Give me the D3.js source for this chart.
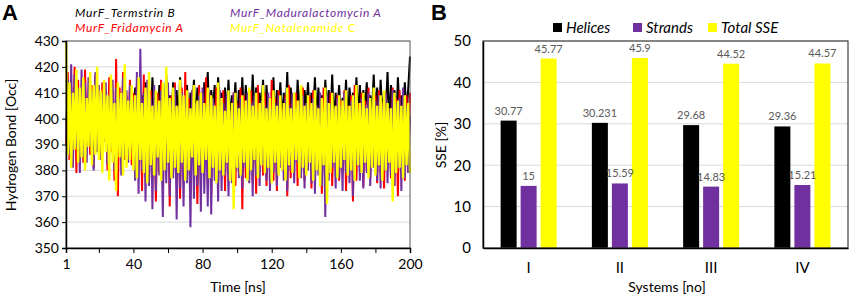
<!DOCTYPE html>
<html>
<head>
<meta charset="utf-8" />
<title>MurF hydrogen bonds and SSE</title>
<style>
  body { margin: 0; background: #fff; }
  svg { font-family: Lato, "Open Sans", sans-serif; }
</style>
</head>
<body>
<svg id="chart" width="858" height="301"></svg>
<script src="https://cdn.jsdelivr.net/npm/d3@7"></script>
<script>
// ---- panel A data (hydrogen bond occupancy, one value per ns, 1..200) ----
var seriesNames = ["MurF_Termstrin B", "MurF_Maduralactomycin A", "MurF_Fridamycin A", "MurF_Natalenamide C"];
var seriesColors = ["#000000", "#7030a0", "#ff0000", "#ffff00"];

var termstrinB = [
  398,404,396,406,401,394,405,399,403,392,404,397,406,395,402,400,405,393,404,398,
  401,396,406,399,404,394,407,401,403,397,406,395,405,400,408,396,404,402,407,398,
  412,400,415,397,409,403,414,399,411,396,416,401,408,398,413,395,410,404,417,400,
  409,396,414,402,411,397,416,399,408,401,413,395,410,403,415,398,412,400,409,397,
  414,401,418,396,411,404,413,399,416,402,410,397,412,400,415,398,409,403,414,396,
  411,400,416,397,413,402,409,399,417,401,412,396,410,404,415,398,413,400,408,402,
  416,397,411,403,414,399,410,401,418,396,412,402,409,398,415,400,413,397,411,404,
  414,399,410,402,416,398,412,401,409,396,415,403,411,400,417,397,410,402,413,399,
  408,401,415,397,412,403,410,399,416,400,413,396,411,404,414,398,409,402,417,400,
  412,397,415,401,410,403,418,399,413,400,411,396,416,402,409,398,414,401,412,424
];
var fridamycinA = [
  390,418,384,412,396,420,379,415,388,410,383,419,392,408,386,413,381,417,394,409,
  385,414,391,407,380,416,387,411,376,423,370,412,393,418,384,409,389,415,382,410,
  378,413,386,408,372,417,381,406,375,411,384,404,368,410,379,415,373,407,383,412,
  366,409,380,414,374,405,369,412,382,418,377,408,371,411,385,406,367,413,376,409,
  381,416,374,410,370,407,383,412,376,405,379,411,372,408,385,403,378,410,374,406,
  380,412,365,409,377,404,383,411,375,407,371,413,382,406,378,410,374,405,381,415,
  376,408,372,411,384,404,379,409,370,413,377,406,383,410,374,407,380,412,376,405,
  382,409,373,411,378,404,385,408,371,412,377,406,380,410,374,403,383,409,376,407,
  379,411,372,405,384,409,368,413,376,406,381,410,374,407,380,412,377,404,383,409,
  375,411,379,406,373,410,382,404,377,412,374,408,370,411,381,405,376,409,379,410
];
var maduralactomycinA = [
  392,415,386,421,381,417,389,412,379,419,385,414,383,416,390,411,380,418,387,413,
  384,410,391,414,382,409,388,415,380,412,393,408,378,416,386,411,383,413,389,407,
  376,418,371,427,380,410,368,415,374,408,365,413,372,406,378,411,362,409,375,414,
  370,407,377,412,361,405,373,410,366,408,375,404,358,411,369,406,374,409,364,412,
  371,405,366,410,363,408,376,404,368,411,372,406,378,409,370,403,375,410,380,405,
  377,408,373,404,381,410,375,406,370,409,378,403,374,407,382,405,376,410,372,404,
  379,406,374,409,381,403,376,408,372,405,380,410,375,404,383,407,377,409,373,406,
  380,404,375,408,371,405,378,410,374,403,362,409,376,406,381,404,373,408,377,405,
  372,410,379,404,375,407,370,409,382,403,376,408,373,405,379,410,374,404,381,407,
  376,409,373,405,380,410,375,404,378,411,374,406,381,408,372,412,377,405,379,401
];
var natalenamideC = [
  430,386,414,381,410,388,419,383,412,385,416,380,408,389,418,382,413,386,420,384,
  411,379,415,387,409,376,417,383,406,372,414,385,410,378,421,381,407,384,413,380,
  409,377,416,384,406,379,412,375,418,382,405,378,411,385,407,376,414,380,420,383,
  408,377,412,381,405,379,415,383,409,376,411,380,404,385,413,378,407,382,410,379,
  406,384,412,377,409,381,405,375,414,380,408,378,403,383,411,376,406,365,410,381,
  404,378,409,383,407,376,412,380,405,384,410,377,406,382,413,379,404,381,408,375,
  411,383,405,378,409,380,406,376,412,382,404,379,410,384,407,377,413,381,405,378,
  409,383,406,376,411,380,404,374,408,382,412,367,406,379,410,383,405,377,409,381,
  407,384,411,378,405,380,409,376,413,382,406,379,410,383,404,377,408,381,412,378,
  405,382,409,376,411,380,406,383,404,368,410,379,407,381,405,377,409,382,406,379
];
var timeTicks = [1, 20, 40, 60, 80, 100, 120, 140, 160, 180, 200];
var timeLabels = [1, 40, 80, 120, 160, 200];
var hbTicks = [350, 360, 370, 380, 390, 400, 410, 420, 430];

// ---- panel B data (SSE %) ----
var systems = ["I", "II", "III", "IV"];
var sseNames = ["Helices", "Strands", "Total SSE"];
var sseColors = ["#000000", "#7030a0", "#ffff00"];
var helices = [30.77, 30.231, 29.68, 29.36];
var strands = [15, 15.59, 14.83, 15.21];
var totalSSE = [45.77, 45.9, 44.52, 44.57];
var sseTicks = [0, 10, 20, 30, 40, 50];

var svg = d3.select("#chart");

// ================= panel A =================
(function panelA() {
  var left = 66, right = 410, top = 41, bottom = 248;
  var x = d3.scaleLinear().domain([1, 200]).range([left, right]);
  var y = d3.scaleLinear().domain([350, 430]).range([bottom, top]);
  var g = svg.append("g");

  // gridlines
  g.selectAll(".grid").data(hbTicks.slice(1)).enter().append("line")
    .attr("x1", left).attr("x2", right)
    .attr("y1", d => y(d)).attr("y2", d => y(d))
    .attr("stroke", "#d9d9d9").attr("stroke-width", 1);

  // series, black at the back, yellow on top
  var all = [termstrinB, maduralactomycinA, fridamycinA, natalenamideC];
  var drawOrder = [0, 2, 1, 3];
  var widths = [2, 2, 2, 2.4];
  var line = d3.line().x((d, i) => x(i + 1)).y(d => y(d));
  drawOrder.forEach(function(k) {
    g.append("path")
      .attr("d", line(all[k]))
      .attr("fill", "none")
      .attr("stroke", seriesColors[k])
      .attr("stroke-width", widths[k])
      .attr("stroke-linejoin", "bevel");
  });

  // frame
  g.append("rect").attr("x", left).attr("y", top)
    .attr("width", right - left).attr("height", bottom - top)
    .attr("fill", "none").attr("stroke", "#595959").attr("stroke-width", 1);

  // axes
  var yAxis = d3.axisLeft(y).tickValues(hbTicks).tickSize(4).tickPadding(3);
  var ya = g.append("g").attr("transform", "translate(" + left + ",0)").call(yAxis);
  var xAxis = d3.axisBottom(x).tickValues(timeTicks).tickSize(5).tickPadding(6)
    .tickFormat(d => timeLabels.indexOf(d) >= 0 ? d : "");
  var xa = g.append("g").attr("transform", "translate(0," + bottom + ")").call(xAxis);
  [ya, xa].forEach(function(a) {
    a.select(".domain").attr("stroke", "#000").attr("stroke-width", 1.5);
    a.selectAll(".tick line").attr("stroke", "#000");
    a.selectAll("text").attr("font-size", 14).attr("fill", "#000")
      .style("font-family", "Lato, sans-serif");
  });

  g.append("text").attr("x", 238).attr("y", 292).attr("text-anchor", "middle")
    .attr("font-size", 14).text("Time [ns]");
  g.append("text").attr("transform", "translate(16,145) rotate(-90)")
    .attr("text-anchor", "middle").attr("font-size", 14).text("Hydrogen Bond [Occ]");

  // legend
  var legPos = [[75, 17], [230, 17], [75, 31.5], [230, 31.5]];
  seriesNames.forEach(function(n, i) {
    g.append("text").attr("x", legPos[i][0]).attr("y", legPos[i][1])
      .attr("font-size", 12).attr("font-style", "italic")
      .attr("letter-spacing", 0.7)
      .attr("fill", seriesColors[i]).text(n);
  });

  g.append("text").attr("x", 2).attr("y", 20).attr("font-size", 22)
    .attr("font-weight", "bold").style("font-family", "Liberation Sans, Arial, sans-serif").text("A");
})();

// ================= panel B =================
(function panelB() {
  var left = 483, right = 848, top = 41, bottom = 248;
  var x0 = d3.scaleBand().domain(systems).range([left, right]);
  var x1 = d3.scaleBand().domain(sseNames).range([0, 56]).paddingInner(0.2);
  var y = d3.scaleLinear().domain([0, 50]).range([bottom, top]);
  var g = svg.append("g");
  var values = [helices, strands, totalSSE];

  g.selectAll(".grid").data(sseTicks.slice(1)).enter().append("line")
    .attr("x1", left).attr("x2", right)
    .attr("y1", d => y(d)).attr("y2", d => y(d))
    .attr("stroke", "#d9d9d9").attr("stroke-width", 1);

  var rows = [];
  systems.forEach(function(s, i) {
    sseNames.forEach(function(n, k) {
      rows.push({ sys: s, name: n, k: k, v: values[k][i] });
    });
  });
  var bx = d => x0(d.sys) + (x0.bandwidth() - 56) / 2 + x1(d.name);

  g.selectAll(".bar").data(rows).enter().append("rect")
    .attr("x", bx).attr("width", x1.bandwidth())
    .attr("y", d => y(d.v)).attr("height", d => bottom - y(d.v))
    .attr("fill", d => sseColors[d.k]);

  g.selectAll(".lbl").data(rows).enter().append("text")
    .attr("x", d => bx(d) + x1.bandwidth() / 2)
    .attr("y", d => y(d.v) - 6)
    .attr("text-anchor", "middle").attr("font-size", 11).attr("fill", "#595959")
    .text(d => d.v);

  g.append("rect").attr("x", left).attr("y", top)
    .attr("width", right - left).attr("height", bottom - top)
    .attr("fill", "none").attr("stroke", "#404040").attr("stroke-width", 1.2);

  var yAxis = d3.axisLeft(y).tickValues(sseTicks).tickSize(0).tickPadding(12);
  var ya = g.append("g").attr("transform", "translate(" + left + ",0)").call(yAxis);
  var xAxis = d3.axisBottom(x0).tickSize(0).tickPadding(14);
  var xa = g.append("g").attr("transform", "translate(0," + bottom + ")").call(xAxis);
  [ya, xa].forEach(function(a) {
    a.select(".domain").attr("stroke", "#000").attr("stroke-width", 1.5);
    a.selectAll("text").attr("font-size", 15).attr("fill", "#000")
      .style("font-family", "Lato, sans-serif");
  });

  g.append("text").attr("x", 667).attr("y", 292).attr("text-anchor", "middle")
    .attr("font-size", 14).text("Systems [no]");
  g.append("text").attr("transform", "translate(446,145) rotate(-90)")
    .attr("text-anchor", "middle").attr("font-size", 14).text("SSE [%]");

  var legX = [553, 633, 708];
  sseNames.forEach(function(n, k) {
    g.append("rect").attr("x", legX[k]).attr("y", 23).attr("width", 9).attr("height", 9)
      .attr("fill", sseColors[k]);
    g.append("text").attr("x", legX[k] + 13).attr("y", 33)
      .attr("font-size", 15).attr("font-style", "italic").text(n);
  });

  g.append("text").attr("x", 431).attr("y", 20).attr("font-size", 22)
    .attr("font-weight", "bold").style("font-family", "Liberation Sans, Arial, sans-serif").text("B");
})();
</script>
</body>
</html>
